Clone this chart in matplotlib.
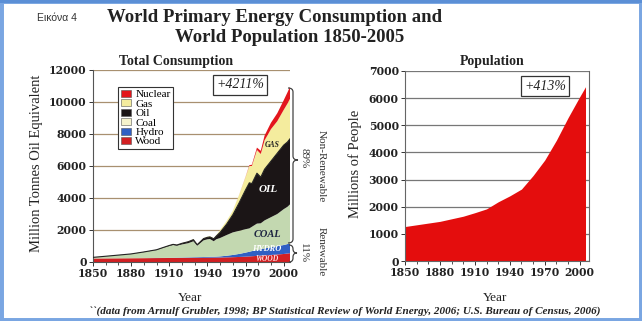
import numpy as np
import matplotlib
matplotlib.use("Agg")
import matplotlib.pyplot as plt
from matplotlib.patches import Patch, Rectangle, PathPatch
from matplotlib.path import Path

# ---------------- data ----------------
years = [1850, 1860, 1870, 1880, 1890, 1900, 1905, 1910, 1913, 1916, 1920, 1925,
         1929, 1932, 1937, 1940, 1942, 1945, 1947, 1950, 1955, 1960, 1965, 1970,
         1973, 1975, 1979, 1982, 1985, 1990, 1995, 2000, 2003, 2005]
wood = [220, 225, 230, 235, 240, 245, 248, 250, 252, 254, 256, 260, 262, 264, 268,
        270, 272, 274, 276, 280, 290, 300, 315, 335, 350, 360, 380, 395, 410, 440,
        470, 500, 530, 550]
hydro = [0, 0, 0, 0, 0, 5, 8, 12, 15, 18, 22, 28, 35, 38, 45, 50, 55, 55, 60, 70,
         100, 140, 190, 250, 290, 320, 370, 400, 440, 480, 520, 560, 590, 610]
coal = [70, 135, 200, 265, 380, 500, 625, 740, 795, 750, 820, 890, 1000, 720, 1040,
        1100, 1110, 970, 1085, 1150, 1290, 1410, 1445, 1465, 1460, 1520, 1650, 1625,
        1750, 1880, 2010, 2240, 2330, 2440]
oil = [0, 0, 2, 5, 8, 15, 20, 30, 40, 40, 70, 90, 100, 60, 110, 120, 130, 150, 200,
       350, 670, 1100, 1750, 2450, 2850, 2700, 3150, 2880, 3200, 3500, 3800, 4000,
       4050, 4100]
gas = [0, 0, 0, 0, 0, 0, 5, 10, 12, 12, 15, 20, 30, 30, 35, 40, 40, 45, 50, 150,
       200, 250, 500, 800, 1050, 1100, 1450, 1450, 1800, 2000, 2000, 2200, 2400, 2500]
nuclear = [0, 0, 0, 0, 0, 0, 0, 0, 0, 0, 0, 0, 0, 0, 0, 0, 0, 0, 0, 0, 0, 0, 5, 20,
           50, 80, 150, 200, 300, 400, 500, 600, 700, 750]

pop_years = [1850, 1880, 1900, 1910, 1920, 1930, 1940, 1950, 1955, 1960, 1970,
             1980, 1990, 2000, 2005]
population = [1270, 1460, 1650, 1780, 1920, 2180, 2400, 2650, 2900, 3150, 3720,
              4450, 5280, 6050, 6420]

legend_labels = ["Nuclear", "Gas", "Oil", "Coal", "Hydro", "Wood"]
energy_ticks = [0, 2000, 4000, 6000, 8000, 10000, 12000]
pop_ticks = [0, 1000, 2000, 3000, 4000, 5000, 6000, 7000]
year_ticks = [1850, 1880, 1910, 1940, 1970, 2000]

# ---------------- style ----------------
W, H = 642, 321
SERIF = "Liberation Serif"
TICKF = "DejaVu Serif"
c_wood = "#d21f22"
c_hydro = "#2f5fc4"
c_coal = "#c3d8b0"
c_oil = "#1b1516"
c_gas = "#f4ec9e"
c_nuc = "#e3161c"
c_pop = "#e40d0d"

def fx(px):
    return px / W

def fy(py):
    return 1 - py / H

fig = plt.figure(figsize=(W / 100, H / 100), dpi=100)
fig.patch.set_facecolor("white")

# blue frame
fig.patches.append(Rectangle((0, 0), 1, 1, transform=fig.transFigure, fill=False,
                             edgecolor="#7aa6e2", linewidth=5, zorder=10))
fig.patches.append(Rectangle((0, 1 - 3 / H), 1, 3 / H, transform=fig.transFigure,
                             facecolor="#5b8fd6", edgecolor="none", zorder=11))

# ---------------- left axes ----------------
ax1 = fig.add_axes([fx(93), fy(262), (290 - 93) / W, (262 - 70) / H])
ax1.stackplot(years, wood, hydro, coal, oil, gas, nuclear,
              colors=[c_wood, c_hydro, c_coal, c_oil, c_gas, c_nuc],
              linewidth=0, zorder=2)
oil_top = np.cumsum([wood, hydro, coal, oil], axis=0)[-1]
ax1.plot(years, oil_top, color="#222", lw=0.8, zorder=3)
ax1.set_xlim(1850, 2005)
ax1.set_ylim(0, 12000)
ax1.set_yticks(energy_ticks)
ax1.set_xticks(year_ticks)
ax1.set_xticks(range(1850, 2006, 10), minor=True)
ax1.yaxis.grid(True, color="#a89070", lw=0.9)
ax1.set_axisbelow(True)
for s in ["top", "right"]:
    ax1.spines[s].set_visible(False)
for s in ["left", "bottom"]:
    ax1.spines[s].set_color("#555")
    ax1.spines[s].set_linewidth(0.8)

# ---------------- right axes ----------------
ax2 = fig.add_axes([fx(405), fy(261), (589 - 405) / W, (261 - 71) / H])
ax2.fill_between(pop_years, population, 0, color=c_pop, linewidth=0, zorder=2)
ax2.set_xlim(1850, 2008)
ax2.set_ylim(0, 7000)
ax2.set_yticks(pop_ticks)
ax2.set_xticks(year_ticks)
ax2.set_xticks(range(1850, 2006, 10), minor=True)
ax2.yaxis.grid(True, color="#777", lw=0.9)
ax2.set_axisbelow(True)
ax2.spines["top"].set_visible(False)
for s in ["left", "bottom", "right"]:
    ax2.spines[s].set_color("#666")
    ax2.spines[s].set_linewidth(0.8)

for ax in (ax1, ax2):
    ax.tick_params(axis="both", which="major", length=3, width=0.7, pad=1.5,
                   colors="#333")
    ax.tick_params(axis="x", which="minor", length=2, width=0.6, colors="#333")
    for lab in ax.get_xticklabels() + ax.get_yticklabels():
        lab.set_fontfamily(TICKF)
        lab.set_fontweight("bold")
        lab.set_fontsize(7.8)
        lab.set_color("#222")

# legend
handles = [Patch(facecolor=c, edgecolor="#555", linewidth=0.4)
           for c in [c_nuc, c_gas, c_oil, "#f6f3cc", c_hydro, c_wood]]
leg = ax1.legend(handles, legend_labels, loc="upper left",
                 bbox_to_anchor=(fx(118), fy(87)), bbox_transform=fig.transFigure,
                 borderaxespad=0, fancybox=False, framealpha=1, edgecolor="#333",
                 prop={"family": SERIF, "size": 8}, labelspacing=0.0,
                 handlelength=0.9, handleheight=0.6, handletextpad=0.4,
                 borderpad=0.25)
leg.get_frame().set_linewidth(0.8)

# labels inside areas
kw = dict(family=SERIF, style="italic", weight="bold", ha="center", va="center",
          zorder=5)
ax1.text(1991, 7300, "GAS", fontsize=5.5, color="#222", **kw)
ax1.text(1988, 4500, "OIL", fontsize=8, color="white", **kw)
ax1.text(1987, 1700, "COAL", fontsize=7.5, color="#1c2440", **kw)
ax1.text(1987, 800, "HYDRO", fontsize=6, color="white", **kw)
ax1.text(1987, 200, "WOOD", fontsize=5.5, color="#ffd8d8", **kw)

# boxes with percentages
box = dict(boxstyle="square,pad=0.25", facecolor="white", edgecolor="#333", lw=0.9)
fig.text(fx(240), fy(85), "+4211%", family=SERIF, style="italic", fontsize=10,
         ha="center", va="center", bbox=box, color="#222")
fig.text(fx(545), fy(86), "+413%", family=SERIF, style="italic", fontsize=10,
         ha="center", va="center", bbox=box, color="#222")

# braces
def brace(x0, xt, ytop, ybot, ymid):
    xm = (x0 + xt) / 2
    r = 4
    verts = [(x0, ytop), (xm, ytop), (xm, ytop + r),
             (xm, ymid - r), (xm, ymid), (xt, ymid),
             (xm, ymid), (xm, ymid + r),
             (xm, ybot - r), (xm, ybot), (x0, ybot)]
    codes = [Path.MOVETO, Path.CURVE3, Path.CURVE3,
             Path.LINETO, Path.CURVE3, Path.CURVE3,
             Path.CURVE3, Path.CURVE3,
             Path.LINETO, Path.CURVE3, Path.CURVE3]
    verts = [(fx(a), fy(b)) for a, b in verts]
    fig.patches.append(PathPatch(Path(verts, codes), transform=fig.transFigure,
                                 fill=False, edgecolor="#444", lw=0.9))

brace(288, 298, 88, 243, 160)
brace(289, 297, 245, 262, 253)

tkw = dict(family=SERIF, fontsize=8, rotation=-90, ha="center", va="center",
           color="#333")
fig.text(fx(304), fy(158), "89%", **tkw)
fig.text(fx(321), fy(166), "Non-Renewable", **tkw)
fig.text(fx(303), fy(253), "11%", **tkw)
fig.text(fx(321), fy(252), "Renewable", **tkw)

# titles
fig.text(fx(37), fy(18), "Εικόνα 4", family="Liberation Sans", fontsize=7.5,
         ha="left", va="center", color="#333")
fig.text(fx(275), fy(18), "World Primary Energy Consumption and", family=SERIF,
         weight="bold", fontsize=13.5, ha="center", va="center", color="#222")
fig.text(fx(290), fy(37), "World Population 1850-2005", family=SERIF,
         weight="bold", fontsize=13.5, ha="center", va="center", color="#222")
fig.text(fx(176), fy(62), "Total Consumption", family=SERIF, weight="bold",
         fontsize=10, ha="center", va="center", color="#222")
fig.text(fx(492), fy(62), "Population", family=SERIF, weight="bold",
         fontsize=10, ha="center", va="center", color="#222")

# axis labels
fig.text(fx(37), fy(163), "Million Tonnes Oil Equivalent", family=SERIF,
         fontsize=10.5, rotation=90, ha="center", va="center", color="#222")
fig.text(fx(355), fy(164), "Millions of People", family=SERIF,
         fontsize=10.5, rotation=90, ha="center", va="center", color="#222")
fig.text(fx(190), fy(298), "Year", family=SERIF, fontsize=9.5,
         ha="center", va="center", color="#222")
fig.text(fx(495), fy(298), "Year", family=SERIF, fontsize=9.5,
         ha="center", va="center", color="#222")

# caption
fig.text(fx(345), fy(311),
         "``(data from Arnulf Grubler, 1998; BP Statistical Review of World Energy, "
         "2006; U.S. Bureau of Census, 2006)",
         family=SERIF, style="italic", weight="bold", fontsize=8,
         ha="center", va="center", color="#222")

fig.savefig("out.png", dpi=100)
